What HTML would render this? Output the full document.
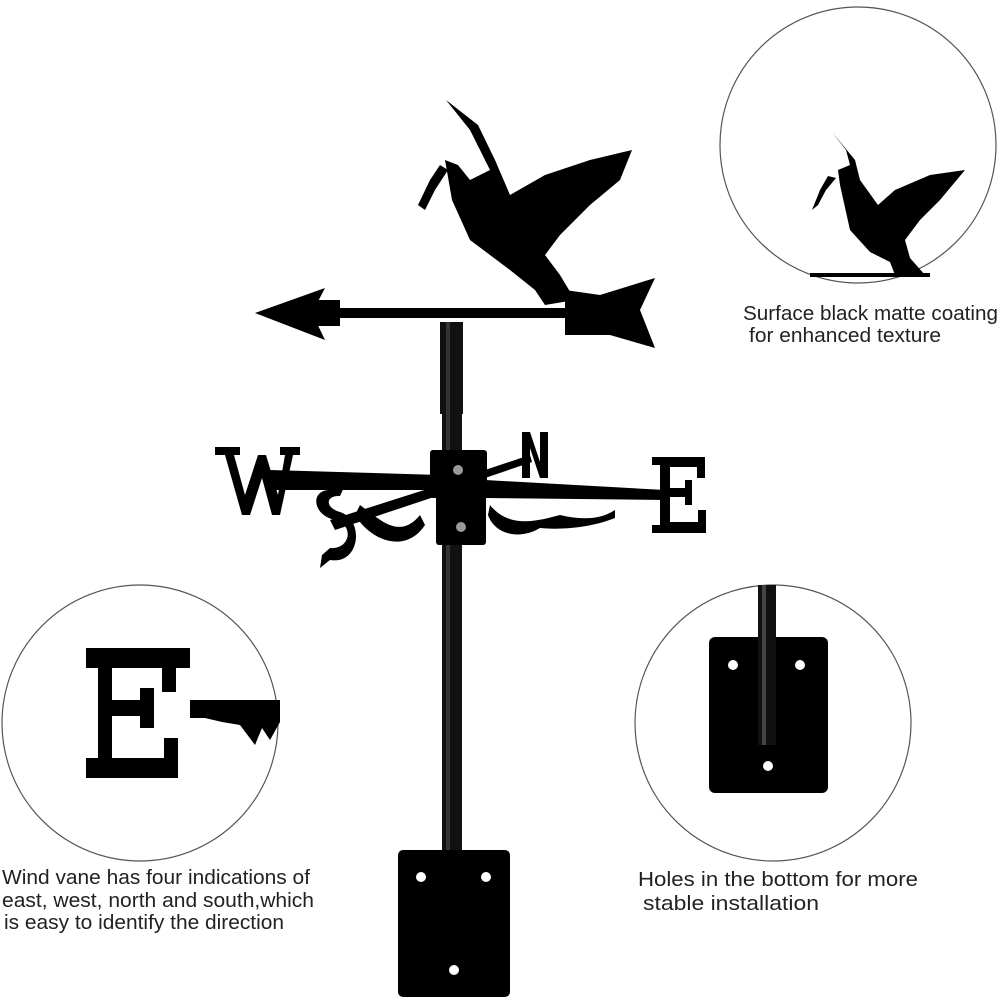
<!DOCTYPE html>
<html><head><meta charset="utf-8"><style>
html,body{margin:0;padding:0;background:#fff;}
svg{display:block}
text{font-family:"Liberation Sans","DejaVu Sans",sans-serif;fill:#222;font-size:20px}
</style></head><body>
<svg width="1000" height="1000" viewBox="0 0 1000 1000">
<circle cx="858" cy="145" r="138" fill="#fff" stroke="#555" stroke-width="1.2"/>
<circle cx="140" cy="723" r="138" fill="#fff" stroke="#555" stroke-width="1.2"/>
<circle cx="773" cy="723" r="138" fill="#fff" stroke="#555" stroke-width="1.2"/>

<g fill="#000">
<path d="M832 132 L846 150 L850 165 L838 170 L840 185 L850 230 L870 252 L890 262 L895 275 L925 275 L910 258 L905 240 L920 220 L940 200 L965 170 L930 175 L895 190 L878 205 L860 180 L855 160 Z"/>
<path d="M828 176 L820 190 L812 210 L818 205 L826 190 L836 178 Z"/>
<rect x="810" y="273" width="120" height="4"/>
</g>

<g fill="#000">
<path d="M86 648 H190 V668 H176 V692 H162 V668 H112 V700 H140 V688 H154 V728 H140 V716 H112 V758 H164 V738 H178 V778 H86 V758 H98 V668 H86 Z"/>
<path d="M190 700 H280 V722 L270 740 L262 728 L255 745 L240 725 L222 722 L205 718 H190 Z"/>
</g>

<rect x="709" y="637" width="119" height="156" rx="6" fill="#000"/>
<rect x="758" y="585" width="18" height="160" fill="#111"/>
<rect x="762" y="585" width="4" height="160" fill="#444"/>
<circle cx="733" cy="665" r="5" fill="#fff"/>
<circle cx="800" cy="665" r="5" fill="#fff"/>
<circle cx="768" cy="766" r="5" fill="#fff"/>

<rect x="442" y="410" width="20" height="445" fill="#111"/>
<rect x="440" y="322" width="23" height="92" fill="#111"/>
<rect x="446" y="322" width="4" height="530" fill="#333"/>

<rect x="398" y="850" width="112" height="147" rx="5" fill="#000"/>
<circle cx="421" cy="877" r="5" fill="#fff"/>
<circle cx="486" cy="877" r="5" fill="#fff"/>
<circle cx="454" cy="970" r="5" fill="#fff"/>

<g fill="#000">
<rect x="300" y="308" width="290" height="10"/>
<path d="M255 313 L325 288 L312 313 L325 340 Z"/>
<path d="M300 300 L340 300 L340 326 L300 326 Z"/>
<path d="M565 290 L600 295 L655 278 L640 310 L655 348 L610 335 L565 335 Z"/>
<path d="M446 100 L470 130 L490 170 L470 180 L458 165 L445 160 L452 200 L470 240 L510 270 L535 290 L545 305 L575 300 L560 275 L545 255 L560 235 L590 205 L620 180 L632 150 L590 160 L545 175 L510 195 L495 160 L478 125 Z"/>
<path d="M440 165 L430 180 L418 205 L425 210 L435 190 L448 170 Z"/>
</g>

<g fill="#000">
<path d="M270 470 L440 475 L440 490 L270 490 Z"/>
<path d="M485 480 L665 490 L665 500 L485 498 Z"/>
<path d="M330 520 L440 485 L440 495 L335 530 Z"/>
<path d="M485 470 L530 455 L532 462 L485 478 Z"/>
<path d="M215 447 H240 V455 H234 L245 495 L258 455 H266 L278 495 L285 455 H280 V447 H300 V455 H293 L280 515 H272 L262 478 L250 515 H242 L225 455 H215 Z"/>
<path d="M652 457 H705 V478 H697 V467 H670 V488 H685 V480 H692 V505 H685 V497 H670 V522 H698 V510 H706 V533 H652 V525 H660 V465 H652 Z"/>
<path d="M330 490 C310 490 312 515 335 520 C355 525 350 550 330 548 L322 555 L320 568 L330 560 C360 565 365 520 340 512 C325 508 325 495 340 496 L345 485 Z"/>
<path d="M522 432 H530 L540 462 V432 H548 V478 H540 L530 448 V478 H522 Z"/>
<path d="M360 505 C380 520 400 540 420 515 L425 525 C405 555 370 540 355 515 Z"/>
<path d="M490 505 C510 530 540 520 560 515 C580 520 600 520 615 510 L615 518 C590 528 560 530 540 528 C520 540 495 535 488 515 Z"/>
<rect x="430" y="450" width="57" height="48" rx="3"/>
<rect x="436" y="492" width="50" height="53" rx="3"/>
</g>
<circle cx="458" cy="470" r="5" fill="#999"/>
<circle cx="461" cy="527" r="5" fill="#999"/>

<text x="743" y="320" textLength="255" lengthAdjust="spacingAndGlyphs">Surface black matte coating</text>
<text x="749" y="342" textLength="192" lengthAdjust="spacingAndGlyphs">for enhanced texture</text>
<text x="2" y="884" textLength="308" lengthAdjust="spacingAndGlyphs">Wind vane has four indications of</text>
<text x="2" y="907" textLength="312" lengthAdjust="spacingAndGlyphs">east, west, north and south,which</text>
<text x="4" y="929" textLength="280" lengthAdjust="spacingAndGlyphs">is easy to identify the direction</text>
<text x="638" y="886" textLength="280" lengthAdjust="spacingAndGlyphs">Holes in the bottom for more</text>
<text x="643" y="910" textLength="176" lengthAdjust="spacingAndGlyphs">stable installation</text>
</svg>
</body></html>
